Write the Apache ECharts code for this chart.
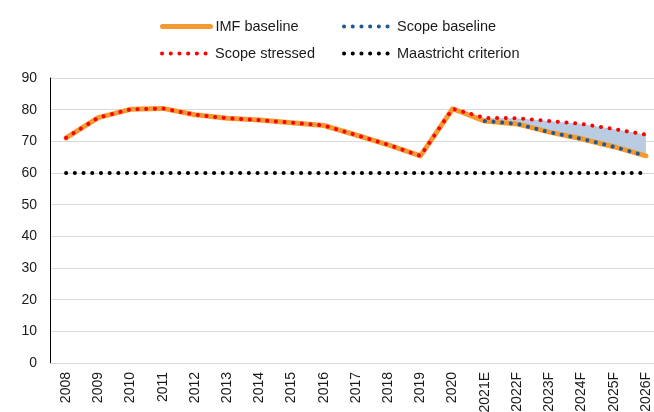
<!DOCTYPE html>
<html>
<head>
<meta charset="utf-8">
<script src="https://cdn.jsdelivr.net/npm/echarts@6/dist/echarts.min.js"></script>
<style>
  html, body { margin: 0; padding: 0; background: #fff; }
  #chart { width: 654px; height: 412px; }
</style>
</head>
<body>
<div id="chart"></div>
<script>
// Government debt, % of GDP
const years = ['2008', '2009', '2010', '2011', '2012', '2013', '2014', '2015', '2016', '2017',
  '2018', '2019', '2020', '2021E', '2022F', '2023F', '2024F', '2025F', '2026F'];
const imfBaseline = [71.1, 77.5, 80.1, 80.4, 78.4, 77.3, 76.7, 75.9, 75.0, 72.0,
  68.9, 65.4, 80.3, 76.4, 75.5, 72.9, 70.8, 68.3, 65.4];
const scopeBaseline = [null, null, null, null, null, null, null, null, null, null,
  null, null, null, 76.4, 75.5, 72.9, 70.8, 68.3, 65.4];
const scopeStressed = [71.1, 77.5, 80.1, 80.4, 78.4, 77.3, 76.7, 75.9, 75.0, 72.0,
  68.9, 65.4, 80.3, 77.4, 77.3, 76.4, 75.5, 73.9, 72.1];
const maastricht = years.map(() => 60);
const yTicks = { min: 0, max: 90, interval: 10 };

// shaded band between the Scope baseline and the stressed path
const bandGap = scopeBaseline.map((v, i) => v == null ? null : +(scopeStressed[i] - v).toFixed(2));

const font = 'Liberation Sans, Arial, sans-serif';
const dotted = (color) => ({ color: color, width: 4, type: [0.1, 8.6], cap: 'round' });

const chart = echarts.init(document.getElementById('chart'), null, { renderer: 'canvas' });

function legendAt(name, left, top, lineStyle) {
  return {
    data: [name], left: left, top: top, itemWidth: 48, itemHeight: 14, itemGap: 0,
    itemStyle: { opacity: 0 },
    lineStyle: lineStyle,
    textStyle: { fontFamily: font, fontSize: 14.5, color: '#1a1a1a', padding: [0, 0, 0, 0] },
    selectedMode: false
  };
}

chart.setOption({
  animation: false,
  backgroundColor: '#fff',
  legend: [
    legendAt('IMF baseline', 155, 14, { color: '#f39a32', width: 5, cap: 'round' }),
    legendAt('Scope baseline', 337, 14, dotted('#1f5896')),
    legendAt('Scope stressed', 155, 41, dotted('#ff0000')),
    legendAt('Maastricht criterion', 337, 41, dotted('#000'))
  ],
  // the plot runs slightly past the right edge; the last labels are cut off
  grid: { left: 50, width: 612, top: 78, height: 285, containLabel: false, outerBoundsMode: 'none' },
  xAxis: {
    type: 'category', data: years, boundaryGap: true,
    axisLine: { lineStyle: { color: '#d9d9d9', width: 1 } },
    axisTick: { show: false },
    axisLabel: { rotate: 90, margin: 9, fontFamily: font, fontSize: 14, color: '#1a1a1a', interval: 0 }
  },
  yAxis: {
    type: 'value', min: yTicks.min, max: yTicks.max, interval: yTicks.interval,
    axisLine: { show: true, lineStyle: { color: '#000', width: 1 } },
    axisTick: { show: false },
    axisLabel: { margin: 13, fontFamily: font, fontSize: 14, color: '#1a1a1a' },
    splitLine: { lineStyle: { color: '#d9d9d9', width: 1 } }
  },
  series: [
    {
      name: 'band-base', type: 'line', stack: 'band', data: scopeBaseline,
      symbol: 'none', lineStyle: { opacity: 0 }, z: 1, silent: true
    },
    {
      name: 'band-gap', type: 'line', stack: 'band', data: bandGap,
      symbol: 'none', lineStyle: { opacity: 0 },
      areaStyle: { color: '#b9cce2', opacity: 1 }, z: 1, silent: true
    },
    {
      name: 'Maastricht criterion', type: 'line', data: maastricht, symbol: 'none',
      color: '#000', lineStyle: dotted('#000'), z: 2
    },
    {
      name: 'IMF baseline', type: 'line', data: imfBaseline, symbol: 'none',
      color: '#f39a32', lineStyle: { color: '#f39a32', width: 5, join: 'round', cap: 'round' }, z: 3
    },
    {
      name: 'Scope baseline', type: 'line', data: scopeBaseline, symbol: 'none',
      color: '#1f5896', lineStyle: dotted('#1f5896'), z: 4
    },
    {
      name: 'Scope stressed', type: 'line', data: scopeStressed, symbol: 'none',
      color: '#ff0000', lineStyle: dotted('#ff0000'), z: 5
    }
  ]
});
</script>
</body>
</html>
